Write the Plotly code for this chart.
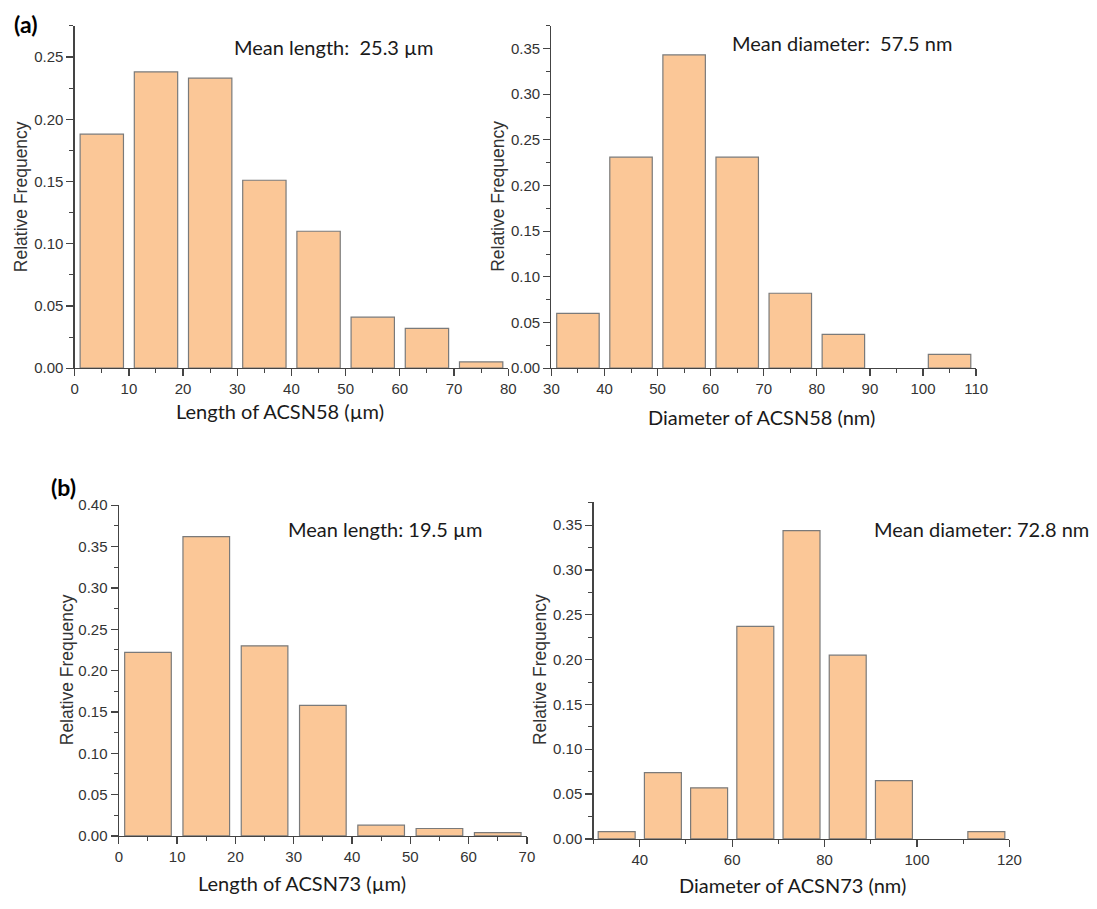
import plotly.graph_objects as go

W, H = 1097, 909

# ---- data ----
len58_bins = [0, 10, 20, 30, 40, 50, 60, 70]
len58_freq = [0.188, 0.238, 0.233, 0.151, 0.110, 0.041, 0.032, 0.005]

dia58_bins = [30, 40, 50, 60, 70, 80, 90, 100]
dia58_freq = [0.060, 0.231, 0.343, 0.231, 0.082, 0.037, 0.0, 0.015]

len73_bins = [0, 10, 20, 30, 40, 50, 60]
len73_freq = [0.222, 0.362, 0.230, 0.158, 0.013, 0.009, 0.004]

dia73_bins = [30, 40, 50, 60, 70, 80, 90, 100, 110]
dia73_freq = [0.008, 0.074, 0.057, 0.237, 0.344, 0.205, 0.065, 0.0, 0.008]

bin_width = 10

xtitles = ["Length of ACSN58 (µm)", "Diameter of ACSN58 (nm)",
           "Length of ACSN73 (µm)", "Diameter of ACSN73 (nm)"]
mean_texts = ["Mean length:  25.3 µm", "Mean diameter:  57.5 nm",
              "Mean length: 19.5 µm", "Mean diameter: 72.8 nm"]
panel_labels = ["(a)", "(b)"]

# ---- layout helpers ----
def px(x):
    return x / W

def py(y):
    return 1 - y / H

BAR_FILL = "#FBC797"
BAR_LINE = "#7a7a7a"
AXIS_COL = "#444444"
TICK_FONT = dict(family="Liberation Sans, Arial", size=15, color="#333333")
TITLE_FONT = dict(family="Lato, Open Sans", size=20, color="#1a1a1a")
YT_FONT = dict(family="Liberation Sans, Arial", size=17.5, color="#333333")

panels = [
    # bins, freq, px box (x0,x1,ytop,ybottom), xrange, yrange, xdtick, xminor
    (len58_bins, len58_freq, (68, 510, 17, 366), [0, 80], [0, 0.2752], 10, 5),
    (dia58_bins, dia58_freq, (554, 987, 17, 366), [30, 110], [0, 0.375], 10, 5),
    (len73_bins, len73_freq, (113, 529, 505.7, 842.7), [0, 70], [0, 0.40], 10, 5),
    (dia73_bins, dia73_freq, (597, 1021, 502.7, 845.7), [30, 120], [0, 0.3755], 20, 10),
]

fig = go.Figure()
layout = dict(
    width=W, height=H,
    margin=dict(l=0, r=0, t=0, b=0),
    paper_bgcolor="white", plot_bgcolor="white",
    showlegend=False,
    bargap=0,
)

for i, (bins, freq, box, xr, yr, xdt, xmin) in enumerate(panels):
    n = "" if i == 0 else str(i + 1)
    centers = [b + bin_width / 2 for b in bins]
    line_w = [1.2 if f > 0 else 0 for f in freq]
    fig.add_trace(go.Bar(
        x=centers, y=freq, width=bin_width * 0.8,
        marker=dict(color=BAR_FILL, line=dict(color=BAR_LINE, width=line_w)),
        xaxis="x" + n, yaxis="y" + n, hoverinfo="skip",
    ))
    x0, x1, yt, yb = box
    layout["xaxis" + n] = dict(
        domain=[px(x0), px(x1)], range=xr, anchor="y" + n,
        showgrid=False, zeroline=False, showline=True, linecolor=AXIS_COL, linewidth=1.3,
        ticks="outside", ticklen=7, tickwidth=1.3, tickcolor=AXIS_COL, dtick=xdt, tick0=0,
        minor=dict(ticks="outside", ticklen=4, dtick=xmin, tick0=0, tickcolor=AXIS_COL, tickwidth=1),
        tickfont=TICK_FONT, fixedrange=True,
    )
    layout["yaxis" + n] = dict(
        domain=[py(yb), py(yt)], range=yr, anchor="x" + n,
        showgrid=False, zeroline=False, showline=True, linecolor=AXIS_COL, linewidth=1.3,
        ticks="outside", ticklen=7, tickwidth=1.3, tickcolor=AXIS_COL, dtick=0.05, tick0=0,
        tickformat=".2f",
        minor=dict(ticks="outside", ticklen=4, dtick=0.025, tick0=0, tickcolor=AXIS_COL, tickwidth=1),
        tickfont=TICK_FONT, fixedrange=True,
    )

fig.update_layout(**layout)

ann = []
# x titles (center x, center y in px)
xt_pos = [(277, 410), (768, 416), (300, 891), (800, 893)]
for t, (cx, cy) in zip(xtitles, xt_pos):
    ann.append(dict(text=t, x=px(cx), y=py(cy), xref="paper", yref="paper",
                    xanchor="center", yanchor="middle", showarrow=False, font=TITLE_FONT))
# y titles
yt_pos = [(14, 191), (500, 191), (61, 673), (543, 673)]
for (cx, cy) in yt_pos:
    ann.append(dict(text="Relative Frequency", x=px(cx), y=py(cy), xref="paper", yref="paper",
                    xanchor="center", yanchor="middle", textangle=-90, showarrow=False, font=YT_FONT))
# mean texts (left x, center y)
mt_pos = [(228, 39), (736, 35), (283, 530), (881, 530)]
for t, (lx, cy) in zip(mean_texts, mt_pos):
    ann.append(dict(text=t, x=px(lx), y=py(cy), xref="paper", yref="paper",
                    xanchor="left", yanchor="middle", showarrow=False, font=TITLE_FONT))
# panel labels
pl_pos = [(4, 15), (42, 487)]
for t, (lx, cy) in zip(panel_labels, pl_pos):
    ann.append(dict(text="<b>" + t + "</b>", x=px(lx), y=py(cy), xref="paper", yref="paper",
                    xanchor="left", yanchor="middle", showarrow=False,
                    font=dict(family="Lato, Open Sans", size=23, color="black")))
fig.update_layout(annotations=ann)

fig.write_html(
    "out.html",
    config={"displayModeBar": False, "staticPlot": True},
    post_script="document.body.style.margin='0';document.body.style.overflow='hidden';",
)
